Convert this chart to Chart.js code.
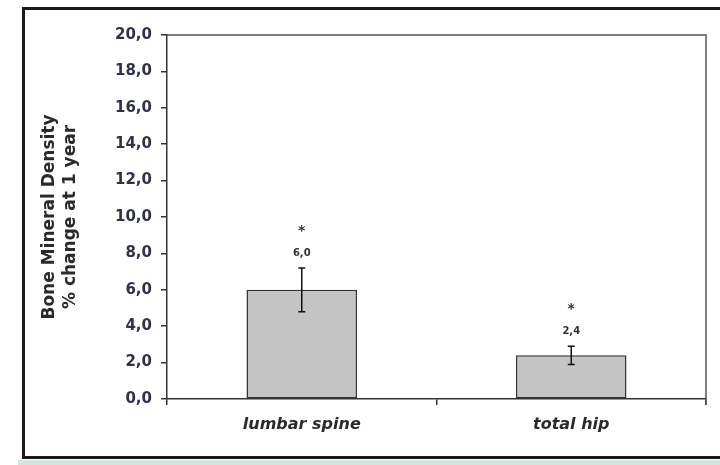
<!DOCTYPE html>
<html>
<head>
<meta charset="utf-8">
<script src="https://cdn.jsdelivr.net/npm/chart.js@4"></script>
<style>
  html, body { margin: 0; padding: 0; background: #fff; }
  #wrap { width: 720px; height: 465px; position: relative; }
</style>
</head>
<body>
<div id="wrap"><canvas id="bmdChart" width="720" height="465"></canvas></div>
<script>
const categories = ['lumbar spine', 'total hip'];
const meanChange = [6.0, 2.4];
const errorHigh = [7.2, 2.9];
const errorLow = [4.8, 1.9];
const significant = [true, true];

const yMin = 0;
const yMax = 20;
const yStep = 2;

const fontFamily = '"DejaVu Sans", Verdana, sans-serif';

function commaNumber(v) {
  return v.toFixed(1).replace('.', ',');
}

// outer box around the whole figure + green strip below it
const framePlugin = {
  id: 'frame',
  beforeDraw(chart) {
    const ctx = chart.ctx;
    ctx.save();
    ctx.fillStyle = '#ffffff';
    ctx.fillRect(0, 0, chart.width, chart.height);
    ctx.fillStyle = '#d4e5dc';
    ctx.fillRect(18, 460, chart.width - 18, chart.height - 460);
    ctx.strokeStyle = '#1a1a1a';
    ctx.lineWidth = 3;
    ctx.beginPath();
    ctx.moveTo(chart.width, 8.5);
    ctx.lineTo(23.5, 8.5);
    ctx.lineTo(23.5, 457.5);
    ctx.lineTo(chart.width, 457.5);
    ctx.stroke();
    ctx.restore();
  },
  afterDraw(chart) {
    // top and right edge of the plot area
    const { top, right, bottom, left } = chart.chartArea;
    const ctx = chart.ctx;
    ctx.save();
    ctx.strokeStyle = '#555555';
    ctx.lineWidth = 1.5;
    ctx.beginPath();
    ctx.moveTo(left, top);
    ctx.lineTo(right, top);
    ctx.lineTo(right, bottom + 6);
    ctx.stroke();
    ctx.restore();
  }
};

// error bars, value labels and significance stars
const errorBarPlugin = {
  id: 'errorBars',
  afterDatasetsDraw(chart) {
    const ctx = chart.ctx;
    const yScale = chart.scales.y;
    const meta = chart.getDatasetMeta(0);
    ctx.save();
    meta.data.forEach((bar, i) => {
      const x = bar.x;
      const yHi = yScale.getPixelForValue(errorHigh[i]);
      const yLo = yScale.getPixelForValue(errorLow[i]);
      ctx.strokeStyle = '#111111';
      ctx.lineWidth = 1.5;
      ctx.beginPath();
      ctx.moveTo(x, yHi);
      ctx.lineTo(x, yLo);
      ctx.moveTo(x - 3.5, yHi);
      ctx.lineTo(x + 3.5, yHi);
      ctx.moveTo(x - 3.5, yLo);
      ctx.lineTo(x + 3.5, yLo);
      ctx.stroke();

      ctx.fillStyle = '#333333';
      ctx.textAlign = 'center';
      ctx.textBaseline = 'middle';
      ctx.font = 'bold 10px ' + fontFamily;
      const labelY = yHi - 15;
      ctx.fillText(commaNumber(meanChange[i]), x, labelY);
      if (significant[i]) {
        ctx.font = 'bold 14px ' + fontFamily;
        ctx.fillText('*', x, labelY - 22);
      }
    });
    ctx.restore();
  }
};

const ctx = document.getElementById('bmdChart').getContext('2d');
new Chart(ctx, {
  type: 'bar',
  data: {
    labels: categories,
    datasets: [{
      data: meanChange,
      backgroundColor: '#c4c4c4',
      borderColor: '#333333',
      borderWidth: 1.5,
      borderSkipped: false,
      categoryPercentage: 0.41,
      barPercentage: 1
    }]
  },
  options: {
    responsive: false,
    animation: false,
    devicePixelRatio: 1,
    layout: { padding: { left: 30, top: 35, right: 14, bottom: 20 } },
    plugins: {
      legend: { display: false },
      tooltip: { enabled: false }
    },
    scales: {
      x: {
        afterFit: (scale) => { scale.height = 46; },
        grid: {
          display: true,
          offset: true,
          drawOnChartArea: false,
          drawTicks: true,
          tickLength: 6,
          color: '#333333',
          lineWidth: 1.5
        },
        border: { display: true, color: '#333333', width: 1.5 },
        ticks: {
          padding: 10,
          color: '#2a2a2a',
          font: { family: fontFamily, size: 16, weight: 'bold', style: 'italic' }
        }
      },
      y: {
        min: yMin,
        max: yMax,
        afterFit: (scale) => { scale.width = 137; },
        grid: {
          display: true,
          drawOnChartArea: false,
          drawTicks: true,
          tickLength: 6,
          color: '#333333',
          lineWidth: 1.5
        },
        border: { display: true, color: '#333333', width: 1.5 },
        ticks: {
          stepSize: yStep,
          padding: 9,
          color: '#30324a',
          font: { family: fontFamily, size: 15, weight: 'bold' },
          callback: (v) => commaNumber(v)
        },
        title: {
          display: true,
          text: ['Bone Mineral Density', '% change at 1 year'],
          color: '#2a2a2a',
          padding: { top: 10, bottom: 0 },
          font: { family: fontFamily, size: 17, weight: 'bold', lineHeight: 1.18 }
        }
      }
    }
  },
  plugins: [framePlugin, errorBarPlugin]
});
</script>
</body>
</html>
